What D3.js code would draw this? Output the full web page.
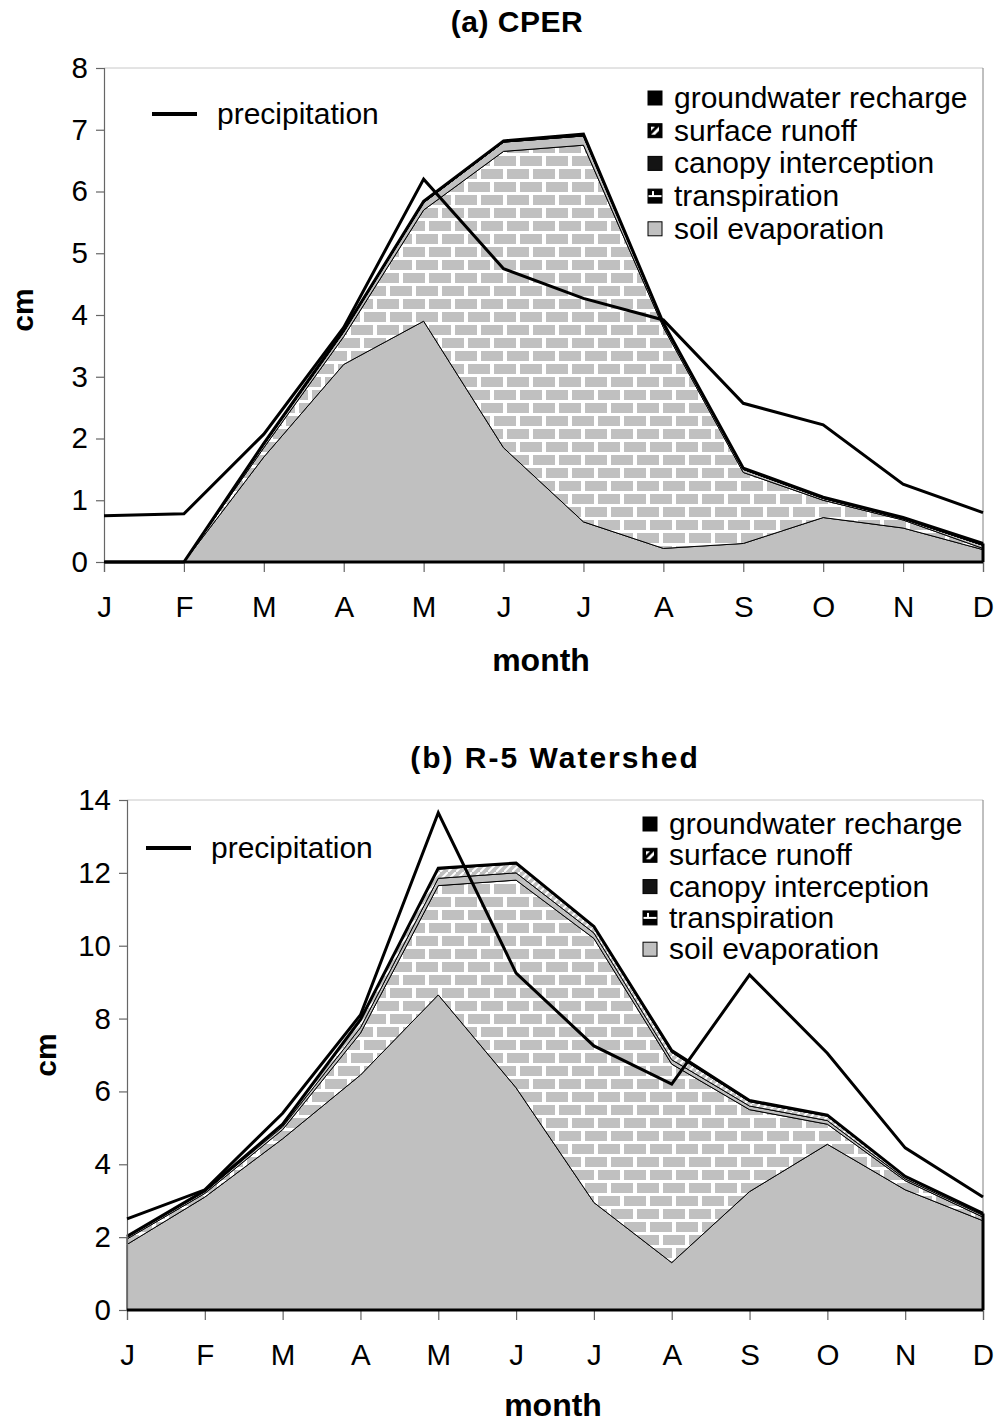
<!DOCTYPE html>
<html>
<head>
<meta charset="utf-8">
<script src="https://cdn.jsdelivr.net/npm/d3@7"></script>
<style>
  body { margin: 0; background: #fff; }
  svg { display: block; font-family: "Liberation Sans", Arial, sans-serif; }
</style>
</head>
<body>
<script>
var months = ["J", "F", "M", "A", "M", "J", "J", "A", "S", "O", "N", "D"];
var layerKeys = ["soil", "transp", "canopy", "runoff", "ground"];
var legendNames = ["groundwater recharge", "surface runoff", "canopy interception", "transpiration", "soil evaporation"];

// (a) CPER, cm per month
var cperPrecip = [0.75, 0.78, 2.07, 3.8, 6.2, 4.75, 4.27, 3.92, 2.57, 2.22, 1.26, 0.8];
var cperSoil   = [0, 0, 1.7, 3.2, 3.9, 1.85, 0.65, 0.22, 0.3, 0.72, 0.55, 0.2];
var cperTransp = [0, 0, 0.15, 0.45, 1.8, 4.8, 6.1, 3.58, 1.15, 0.28, 0.13, 0.02];
var cperCanopy = [0, 0, 0.05, 0.08, 0.12, 0.15, 0.15, 0.05, 0.05, 0.03, 0.02, 0.05];
var cperRunoff = [0, 0, 0, 0, 0, 0, 0, 0, 0, 0, 0, 0];
var cperGround = [0, 0, 0.02, 0.02, 0.02, 0.02, 0.03, 0.02, 0.02, 0.02, 0.02, 0.03];
var cperTicks  = [0, 1, 2, 3, 4, 5, 6, 7, 8];

// (b) R-5 Watershed, cm per month
var r5Precip = [2.5, 3.3, 5.4, 8.1, 13.65, 9.25, 7.25, 6.2, 9.2, 7.05, 4.45, 3.1];
var r5Soil   = [1.8, 3.1, 4.7, 6.45, 8.65, 6.1, 2.95, 1.3, 3.25, 4.55, 3.3, 2.45];
var r5Transp = [0.15, 0.1, 0.25, 1.15, 3.0, 5.7, 7.25, 5.45, 2.25, 0.55, 0.25, 0.1];
var r5Canopy = [0.05, 0.05, 0.08, 0.15, 0.2, 0.2, 0.15, 0.12, 0.1, 0.1, 0.05, 0.05];
var r5Runoff = [0.02, 0.03, 0.05, 0.2, 0.25, 0.25, 0.15, 0.2, 0.12, 0.12, 0.05, 0.03];
var r5Ground = [0, 0, 0.02, 0.02, 0.03, 0.02, 0.03, 0.05, 0.03, 0.03, 0.02, 0.02];
var r5Ticks  = [0, 2, 4, 6, 8, 10, 12, 14];

var svg = d3.select("body").append("svg")
    .attr("width", 995)
    .attr("height", 1423)

// patterns
var defs = svg.append("defs")

var brick = defs.append("pattern")
    .attr("id", "brick")
    .attr("patternUnits", "userSpaceOnUse")
    .attr("width", 26)
    .attr("height", 26)
brick.append("rect").attr("width", 26).attr("height", 26).attr("fill", "#fff")
brick.append("rect").attr("x", 0).attr("y", 0).attr("width", 22).attr("height", 10).attr("fill", "#c0c0c0")
brick.append("rect").attr("x", -13).attr("y", 13).attr("width", 22).attr("height", 10).attr("fill", "#c0c0c0")
brick.append("rect").attr("x", 13).attr("y", 13).attr("width", 22).attr("height", 10).attr("fill", "#c0c0c0")

var runoffPat = defs.append("pattern")
    .attr("id", "runoff")
    .attr("patternUnits", "userSpaceOnUse")
    .attr("width", 8)
    .attr("height", 8)
runoffPat.append("rect").attr("width", 8).attr("height", 8).attr("fill", "#c0c0c0")
runoffPat.append("path").attr("d", "M0,8 L8,0").attr("stroke", "#fff").attr("stroke-width", 2)

// legend swatch patterns
var swRun = defs.append("pattern")
    .attr("id", "swrun")
    .attr("patternUnits", "objectBoundingBox")
    .attr("width", 1).attr("height", 1)
swRun.append("rect").attr("width", 14).attr("height", 14).attr("fill", "#000")
swRun.append("path").attr("d", "M3,11 L11,3 L11,7 L7,11 Z").attr("fill", "#fff")
swRun.append("path").attr("d", "M3,3 L7,3 L3,7 Z").attr("fill", "#fff")

var swTr = defs.append("pattern")
    .attr("id", "swtr")
    .attr("patternUnits", "objectBoundingBox")
    .attr("width", 1).attr("height", 1)
swTr.append("rect").attr("width", 14).attr("height", 14).attr("fill", "#000")
swTr.append("rect").attr("x", 0).attr("y", 6).attr("width", 14).attr("height", 2).attr("fill", "#fff")
swTr.append("rect").attr("x", 4).attr("y", 2).attr("width", 2).attr("height", 4).attr("fill", "#fff")

var layerFill = {
    soil: "#c0c0c0",
    transp: "url(#brick)",
    canopy: "#c0c0c0",
    runoff: "url(#runoff)",
    ground: "#000"
}
var swatchFill = ["#000", "url(#swrun)", "#141414", "url(#swtr)", "#c0c0c0"]

function drawChart(opt) {
    var x = d3.scalePoint()
        .domain(d3.range(months.length))
        .range([opt.left, opt.right])

    var y = d3.scaleLinear()
        .domain([0, opt.ymax])
        .range([opt.bottom, opt.top])

    var rows = months.map(function(m, i) {
        return {
            i: i,
            soil: opt.soil[i],
            transp: opt.transp[i],
            canopy: opt.canopy[i],
            runoff: opt.runoff[i],
            ground: opt.ground[i]
        }
    })
    var series = d3.stack().keys(layerKeys)(rows)

    var g = svg.append("g")

    // frame (light gray top and right)
    g.append("line")
        .attr("x1", opt.left).attr("x2", opt.right)
        .attr("y1", opt.top).attr("y2", opt.top)
        .attr("stroke", "#c8c8c8").attr("stroke-width", 1)
    g.append("line")
        .attr("x1", opt.right).attr("x2", opt.right)
        .attr("y1", opt.top).attr("y2", opt.bottom)
        .attr("stroke", "#808080").attr("stroke-width", 1)

    var area = d3.area()
        .x(function(d) { return x(d.data.i) })
        .y0(function(d) { return y(d[0]) })
        .y1(function(d) { return y(d[1]) })

    g.selectAll(".layer")
        .data(series)
        .enter().append("path")
        .attr("class", "layer")
        .attr("d", area)
        .attr("fill", function(d) { return layerFill[d.key] })
        .attr("stroke", "#000")
        .attr("stroke-width", 1)
        .attr("stroke-linejoin", "round")

    // thick top outline of the stack
    var top = series[series.length - 1]
    g.append("path")
        .datum(top)
        .attr("d", d3.line()
            .x(function(d) { return x(d.data.i) })
            .y(function(d) { return y(d[1]) }))
        .attr("fill", "none")
        .attr("stroke", "#000")
        .attr("stroke-width", 3)
    // right edge of stack
    g.append("line")
        .attr("x1", opt.right).attr("x2", opt.right)
        .attr("y1", y(0)).attr("y2", y(top[top.length - 1][1]))
        .attr("stroke", "#000").attr("stroke-width", 3)

    // axes
    var yAxis = g.append("g")
        .attr("transform", "translate(" + opt.left + ",0)")
        .call(d3.axisLeft(y).tickValues(opt.ticks).tickSize(8).tickPadding(8).tickFormat(d3.format("d")))
    var xAxis = g.append("g")
        .attr("transform", "translate(0," + opt.bottom + ")")
        .call(d3.axisBottom(x).tickSize(10).tickPadding(24).tickFormat(function(i) { return months[i] }))

    ;[yAxis, xAxis].forEach(function(a) {
        a.select(".domain").attr("stroke", "#666").attr("stroke-width", 1.2)
        a.selectAll(".tick line").attr("stroke", "#666").attr("stroke-width", 1.2)
        a.selectAll(".tick text")
            .attr("fill", "#000")
            .style("font-size", "29.5px")
            .style("font-family", "Liberation Sans, Arial, sans-serif")
    })

    // zero baseline
    g.append("line")
        .attr("x1", opt.left).attr("x2", opt.right)
        .attr("y1", y(0)).attr("y2", y(0))
        .attr("stroke", "#000").attr("stroke-width", 3)

    // precipitation
    g.append("path")
        .datum(opt.precip)
        .attr("d", d3.line()
            .x(function(d, i) { return x(i) })
            .y(function(d) { return y(d) }))
        .attr("fill", "none")
        .attr("stroke", "#000")
        .attr("stroke-width", 3)
        .attr("stroke-linejoin", "miter")

    // titles and axis labels
    g.append("text")
        .attr("x", opt.titleX).attr("y", opt.titleY)
        .attr("text-anchor", "middle")
        .style("font-weight", "bold").style("font-size", "30px")
        .style("letter-spacing", opt.titleSpacing)
        .text(opt.title)
    g.append("text")
        .attr("x", opt.monthX).attr("y", opt.monthY)
        .attr("text-anchor", "middle")
        .style("font-weight", "bold").style("font-size", "32px")
        .text("month")
    g.append("text")
        .attr("transform", "translate(" + opt.cmX + "," + opt.cmY + ") rotate(-90)")
        .attr("text-anchor", "middle")
        .style("font-weight", "bold").style("font-size", "30px")
        .text("cm")

    // legend: precipitation
    g.append("line")
        .attr("x1", opt.precipLegX).attr("x2", opt.precipLegX + 45)
        .attr("y1", opt.precipLegY).attr("y2", opt.precipLegY)
        .attr("stroke", "#000").attr("stroke-width", 4)
    g.append("text")
        .attr("x", opt.precipLegX + 65).attr("y", opt.precipLegY + 10)
        .style("font-size", "30px")
        .text("precipitation")

    // legend: layers
    var leg = g.selectAll(".leg")
        .data(legendNames)
        .enter().append("g")
        .attr("transform", function(d, i) {
            return "translate(" + opt.legX + "," + (opt.legY + i * opt.legStep) + ")"
        })
    leg.append("rect")
        .attr("x", 0).attr("y", -7)
        .attr("width", 14).attr("height", 14)
        .attr("fill", function(d, i) { return swatchFill[i] })
        .attr("stroke", "#000").attr("stroke-width", 1)
    leg.append("text")
        .attr("x", 26).attr("y", 10)
        .style("font-size", "30px")
        .text(function(d) { return d })
}

drawChart({
    left: 104, right: 983, top: 68, bottom: 562, ymax: 8, ticks: cperTicks,
    precip: cperPrecip, soil: cperSoil, transp: cperTransp, canopy: cperCanopy,
    runoff: cperRunoff, ground: cperGround,
    title: "(a) CPER", titleX: 517, titleY: 32, titleSpacing: "0.5px",
    monthX: 541, monthY: 671, cmX: 33, cmY: 310,
    precipLegX: 152, precipLegY: 114,
    legX: 648, legY: 98, legStep: 32.7
})

drawChart({
    left: 127, right: 983, top: 800, bottom: 1310, ymax: 14, ticks: r5Ticks,
    precip: r5Precip, soil: r5Soil, transp: r5Transp, canopy: r5Canopy,
    runoff: r5Runoff, ground: r5Ground,
    title: "(b) R-5 Watershed", titleX: 555, titleY: 768, titleSpacing: "2px",
    monthX: 553, monthY: 1416, cmX: 56, cmY: 1055,
    precipLegX: 146, precipLegY: 848,
    legX: 643, legY: 824, legStep: 31.3
})
</script>
</body>
</html>
